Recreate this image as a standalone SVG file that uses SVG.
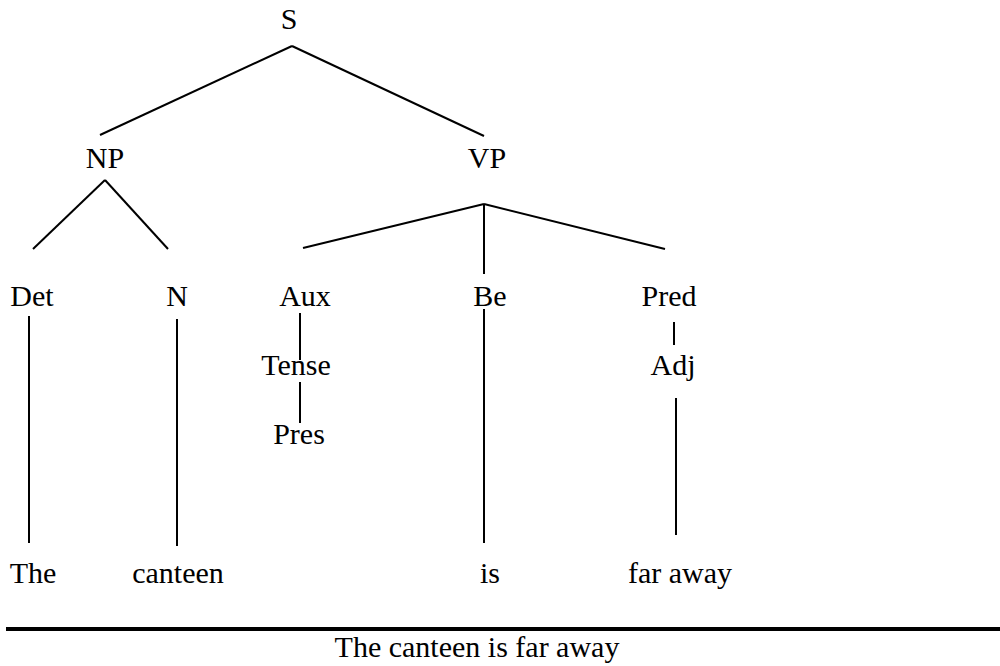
<svg xmlns="http://www.w3.org/2000/svg" width="1000" height="666" viewBox="0 0 1000 666">
  <style>
    .lbl { font-family: "Liberation Serif", "Times New Roman", serif; font-size: 30px; fill: #000; text-anchor: middle; }
    .edge { stroke: #000; stroke-width: 2; fill: none; }
    .rule { stroke: #000; stroke-width: 4; }
  </style>
  <rect width="1000" height="666" fill="#fff"/>

  <!-- tree edges -->
  <g id="connectors">
    <line class="edge" x1="292" y1="46" x2="100" y2="135"/>
    <line class="edge" x1="292" y1="46" x2="484" y2="136"/>
    <line class="edge" x1="105" y1="180" x2="33" y2="249"/>
    <line class="edge" x1="105" y1="180" x2="168" y2="249"/>
    <line class="edge" x1="484" y1="204" x2="303" y2="248"/>
    <line class="edge" x1="484" y1="204" x2="484" y2="274"/>
    <line class="edge" x1="484" y1="204" x2="665" y2="249"/>
    <line class="edge" x1="29" y1="316" x2="29" y2="543"/>
    <line class="edge" x1="177" y1="319" x2="177" y2="546"/>
    <line class="edge" x1="300" y1="313" x2="300" y2="360"/>
    <line class="edge" x1="300" y1="382" x2="300" y2="423"/>
    <line class="edge" x1="484" y1="309" x2="484" y2="543"/>
    <line class="edge" x1="674" y1="322" x2="674" y2="345"/>
    <line class="edge" x1="676" y1="398" x2="676" y2="535"/>
  </g>

  <!-- phrase nodes -->
  <g id="node-S"><text class="lbl" x="289" y="29">S</text></g>
  <g id="node-NP"><text class="lbl" x="105" y="168">NP</text></g>
  <g id="node-VP"><text class="lbl" x="487" y="168">VP</text></g>
  <g id="node-Det"><text class="lbl" x="32" y="306">Det</text></g>
  <g id="node-N"><text class="lbl" x="177" y="306">N</text></g>
  <g id="node-Aux"><text class="lbl" x="305" y="306">Aux</text></g>
  <g id="node-Be"><text class="lbl" x="490" y="306">Be</text></g>
  <g id="node-Pred"><text class="lbl" x="669" y="306">Pred</text></g>
  <g id="node-Tense"><text class="lbl" x="296" y="375">Tense</text></g>
  <g id="node-Adj"><text class="lbl" x="673" y="375">Adj</text></g>
  <g id="node-Pres"><text class="lbl" x="299" y="444">Pres</text></g>

  <!-- words -->
  <g id="word-The"><text class="lbl" x="33" y="583">The</text></g>
  <g id="word-canteen"><text class="lbl" x="178" y="583">canteen</text></g>
  <g id="word-is"><text class="lbl" x="490" y="583">is</text></g>
  <g id="word-faraway"><text class="lbl" x="680" y="583">far away</text></g>

  <!-- sentence caption under a heavy rule -->
  <g id="caption">
    <line class="rule" x1="6" y1="629" x2="1000" y2="629"/>
    <text class="lbl" x="477" y="657">The canteen is far away</text>
  </g>
</svg>
